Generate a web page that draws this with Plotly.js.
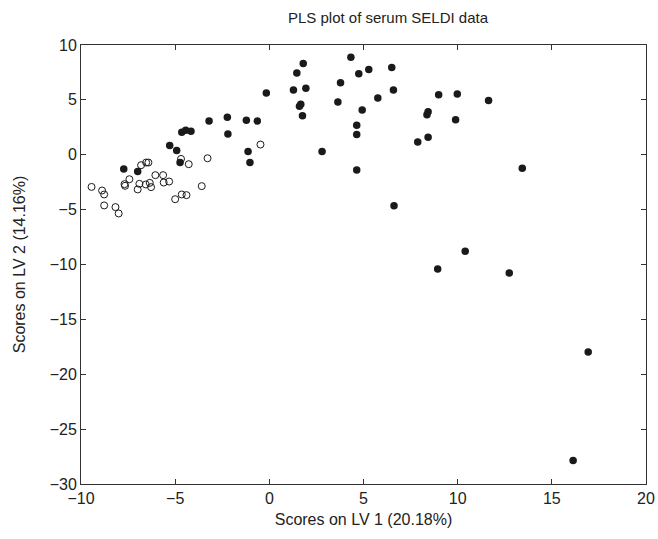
<!DOCTYPE html>
<html>
<head>
<meta charset="utf-8">
<script src="https://cdn.plot.ly/plotly-3.0.1.min.js"></script>
<style>html,body{margin:0;padding:0;background:#fff;}#plot{width:658px;height:539px;}</style>
</head>
<body>
<div id="plot"></div>
<script>
// Open circles (class A)
var openX = [-9.44,-8.88,-8.77,-8.77,-8.17,-8.0,-7.69,-7.66,-7.43,-6.99,-6.9,-6.81,-6.54,-6.42,-6.56,-6.35,-6.28,-6.05,-5.64,-5.61,-5.32,-5.0,-4.65,-4.4,-4.69,-4.28,-3.59,-3.28,-0.47];
var openY = [-2.93,-3.26,-3.62,-4.62,-4.77,-5.35,-2.68,-2.83,-2.23,-3.16,-2.65,-0.95,-0.71,-0.71,-2.71,-2.56,-2.95,-1.86,-1.86,-2.53,-2.44,-4.05,-3.62,-3.68,-0.38,-0.86,-2.86,-0.32,0.93];
// Filled circles (class B)
var fillX = [-7.73,-6.99,-5.29,-4.92,-4.74,-4.65,-4.44,-4.16,-3.2,-2.23,-2.2,-1.22,-1.13,-1.03,-0.64,-0.16,
  1.28,1.46,1.6,1.67,1.76,1.8,1.94,2.8,4.33,3.78,4.75,5.28,6.5,6.59,3.64,5.76,4.93,4.64,4.64,4.64,6.62,
  8.99,9.98,11.64,8.43,8.37,9.89,7.88,8.43,13.43,8.94,10.4,12.74,16.93,16.13];
var fillY = [-1.29,-1.53,0.84,0.38,-0.71,2.05,2.23,2.14,3.07,3.41,1.89,3.14,0.29,-0.71,3.07,5.62,
  5.89,7.44,4.41,4.6,3.56,8.32,6.05,0.29,8.89,6.56,7.38,7.77,7.95,5.89,4.8,5.16,4.07,2.68,1.84,-1.38,-4.65,
  5.47,5.53,4.95,3.92,3.65,3.2,1.16,1.59,-1.23,-10.41,-8.8,-10.77,-17.98,-27.86];
var xTicks = [-10,-5,0,5,10,15,20];
var yTicks = [-30,-25,-20,-15,-10,-5,0,5,10];
var xTickText = ['\u221210','\u22125','0','5','10','15','20'];
var yTickText = ['\u221230','\u221225','\u221220','\u221215','\u221210','\u22125','0','5','10'];

var traces = [
  {x: fillX, y: fillY, type: 'scatter', mode: 'markers',
   marker: {symbol: 'circle', size: 7.5, color: '#1a1a1a', line: {width: 0}}},
  {x: openX, y: openY, type: 'scatter', mode: 'markers',
   marker: {symbol: 'circle-open', size: 7, color: '#1a1a1a', line: {width: 1}}}
];
var axisCommon = {
  showline: true, linecolor: '#333', linewidth: 1, mirror: 'ticks',
  ticks: 'inside', ticklen: 5, tickcolor: '#333', tickwidth: 1,
  showgrid: false, zeroline: false,
  tickfont: {family: 'Liberation Sans, Arial, sans-serif', size: 16, color: '#222'}
};
var layout = {
  width: 658, height: 539,
  margin: {l: 80.5, r: 11.7, t: 44.5, b: 54.5},
  paper_bgcolor: '#fff', plot_bgcolor: '#fff',
  showlegend: false,
  title: {text: 'PLS plot of serum SELDI data', x: 388/658, xanchor: 'center', y: 1 - 18/539, yanchor: 'middle',
          font: {family: 'Liberation Sans, Arial, sans-serif', size: 15, color: '#222'}},
  xaxis: Object.assign({}, axisCommon, {
    range: [-10, 20], tickvals: xTicks, ticktext: xTickText,
    title: {text: 'Scores on LV 1 (20.18%)', standoff: 7,
            font: {family: 'Liberation Sans, Arial, sans-serif', size: 16, color: '#222'}}
  }),
  yaxis: Object.assign({}, axisCommon, {
    range: [-30, 10], tickvals: yTicks, ticktext: yTickText,
    title: {text: 'Scores on LV 2 (14.16%)', standoff: 20,
            font: {family: 'Liberation Sans, Arial, sans-serif', size: 16, color: '#222'}}
  })
};
Plotly.newPlot('plot', traces, layout, {displayModeBar: false, staticPlot: true});
</script>
</body>
</html>
